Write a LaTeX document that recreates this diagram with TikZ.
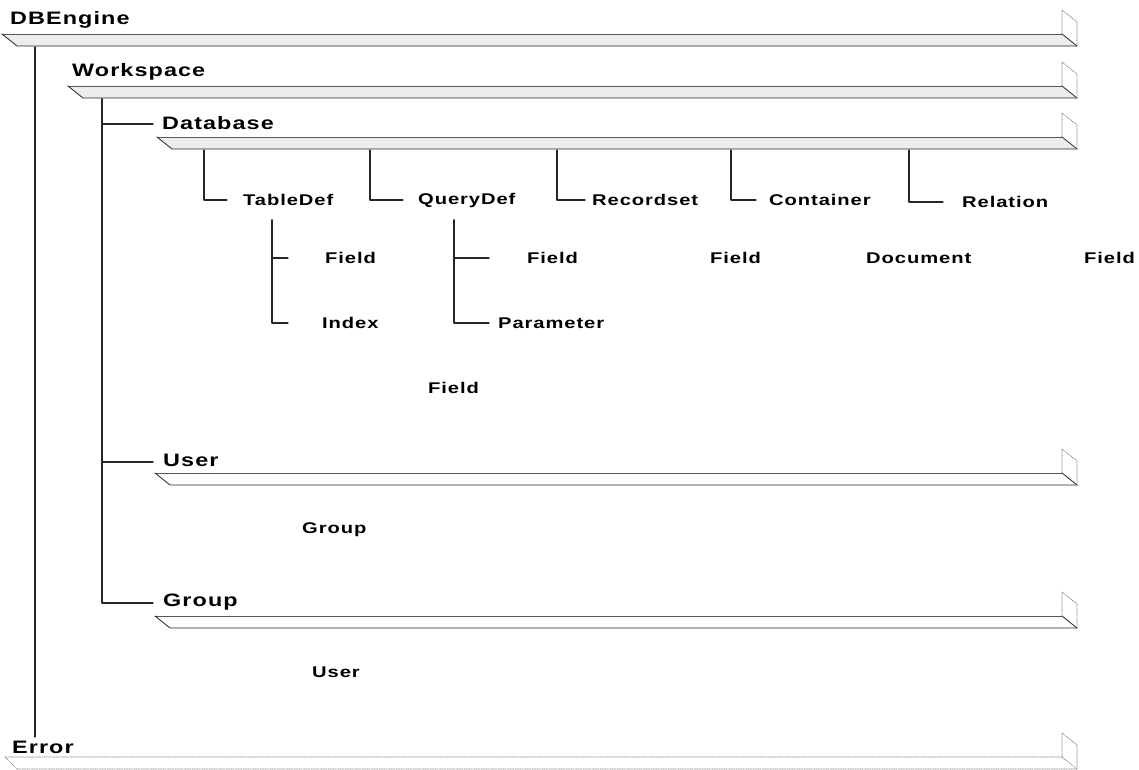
\documentclass[tikz,border=0pt]{standalone}
\usepackage{fontspec}
\newfontfamily\lblfont[FakeStretch=1.3,LetterSpace=6]{Liberation Sans}
\usepackage{tikz}

\begin{document}
\begin{tikzpicture}[x=1pt,y=-1pt,line cap=round,line join=round,
  biglabel/.style={anchor=west,inner sep=0pt,font=\lblfont\bfseries\fontsize{18}{20}\selectfont},
  label/.style={anchor=west,inner sep=0pt,font=\lblfont\bfseries\fontsize{15.5}{18}\selectfont},
  trunk/.style={draw=black!85,line width=1.1pt},
  shelfedge/.style={draw=black!65,line width=.8pt},
  shelfback/.style={draw=black!50,line width=.7pt,densely dotted}]
\path[use as bounding box] (0,0) rectangle (1139,770);
% shelves
\foreach \xl/\yt/\shade in {2/34/black!7,68/86/black!7,157/137/black!7,155/473/white,155/616/white}{
  \fill[\shade] (\xl,\yt) -- (1062,\yt) -- (1077,\yt+12) -- (\xl+15,\yt+12) -- cycle;
  \draw[shelfedge] (\xl,\yt) -- (1062,\yt);
  \draw[shelfedge,draw=black!85] (\xl,\yt) -- (\xl+15,\yt+12) -- (1077,\yt+12);
  \draw[shelfedge,draw=black!85] (1062,\yt) -- (1077,\yt+12);
  \draw[shelfback] (1062,\yt) -- (1062,\yt-24) -- (1077,\yt-12) -- (1077,\yt+12);
}
\draw[shelfback] (5,757) -- (1062,757) -- (1077,769);
\draw[shelfback] (5,757) -- (17,769) -- (1077,769);
\draw[shelfback] (1062,757) -- (1062,733) -- (1077,745) -- (1077,769);
% labels
\node[biglabel] (dbengine) at (10,20) {DBEngine};
\node[biglabel] (workspace) at (72,72) {Workspace};
\node[biglabel] (database) at (162,123) {Database};
\node[biglabel] (user) at (163,460) {User};
\node[biglabel] (group) at (163,602) {Group};
\node[biglabel] (error) at (12,747) {Error};
\node[label] (tabledef) at (243,200) {TableDef};
\node[label] (querydef) at (418,200) {QueryDef};
\node[label] (recordset) at (592,200) {Recordset};
\node[label] (container) at (769,200) {Container};
\node[label] (relation) at (962,202) {Relation};
\node[label] (tdfield) at (325,258) {Field};
\node[label] (tdindex) at (322,323) {Index};
\node[label] (qdfield) at (527,258) {Field};
\node[label] (qdparam) at (498,323) {Parameter};
\node[label] (rsfield) at (710,258) {Field};
\node[label] (ctdoc) at (866,258) {Document};
\node[label] (relfield) at (1084,258) {Field};
\node[label] (idxfield) at (428,388) {Field};
\node[label] (usergroup) at (302,530) {Group};
\node[label] (groupuser) at (312,672) {User};
% connectors
\coordinate (dbTop) at (35,47);
\coordinate (dbBot) at (35,737);
\coordinate (wsTop) at (102,99);
\coordinate (dbEnd) at (153,124);
\coordinate (usEnd) at (153,462);
\coordinate (grEnd) at (153,603);
\draw[trunk] (dbTop) -- (dbBot);
\draw[trunk] (wsTop) |- (grEnd);
\draw[trunk] (wsTop) |- (dbEnd);
\draw[trunk] (wsTop) |- (usEnd);
\coordinate (tdTop) at (204,150);
\coordinate (tdEnd) at (227,200);
\coordinate (qdTop) at (370,150);
\coordinate (qdEnd) at (403,200);
\coordinate (rsTop) at (557,150);
\coordinate (rsEnd) at (585,200);
\coordinate (ctTop) at (731,150);
\coordinate (ctEnd) at (756,200);
\coordinate (rlTop) at (909,150);
\coordinate (rlEnd) at (943,202);
\draw[trunk] (tdTop) |- (tdEnd);
\draw[trunk] (qdTop) |- (qdEnd);
\draw[trunk] (rsTop) |- (rsEnd);
\draw[trunk] (ctTop) |- (ctEnd);
\draw[trunk] (rlTop) |- (rlEnd);
\coordinate (tdSub) at (272,220);
\coordinate (tdfEnd) at (288,258);
\coordinate (tdiEnd) at (288,323);
\coordinate (qdSub) at (454,220);
\coordinate (qdfEnd) at (489,258);
\coordinate (qdpEnd) at (489,323);
\draw[trunk] (tdSub) |- (tdiEnd);
\draw[trunk] (tdSub) |- (tdfEnd);
\draw[trunk] (qdSub) |- (qdpEnd);
\draw[trunk] (qdSub) |- (qdfEnd);
\end{tikzpicture}
\end{document}
